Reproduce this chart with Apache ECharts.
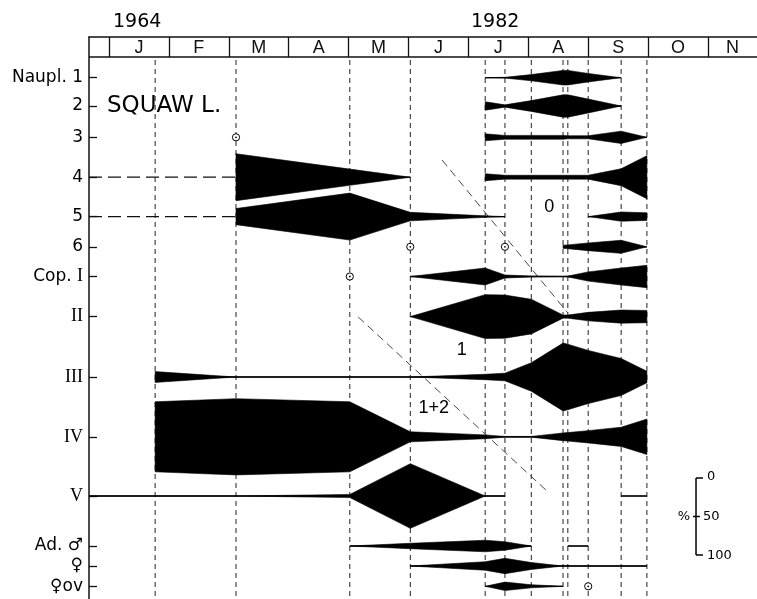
<!DOCTYPE html>
<html>
<head>
<meta charset="utf-8">
<script src="https://cdn.jsdelivr.net/npm/echarts@6/dist/echarts.min.js"></script>
<style>
html, body { margin: 0; padding: 0; background: #fff; }
#chart { width: 757px; height: 599px; }
</style>
</head>
<body>
<div id="chart"></div>
<script>
// Month letters of the calendar strip (January .. November)
const months = ['J', 'F', 'M', 'A', 'M', 'J', 'J', 'A', 'S', 'O', 'N'];

// Sampling dates, in months after 1 January
const sampleTimes = [0.77, 2.12, 4.02, 5.03, 6.28, 6.61, 7.05, 7.58, 7.66, 8.00, 8.55, 8.98];

// Developmental stages, top to bottom
const stageLabels = ['Naupl. 1', '2', '3', '4', '5', '6', 'Cop. I', 'II', 'III', 'IV', 'V', 'Ad. \u2642', '\u2640', '\u2640ov'];

// Share of each stage (% of the sample) at each sampling date.
// Each stage is a list of runs; a run is a list of [sample index, percent].
// 'edge' stands for the start of the record at the left margin.
const naupl1 = [[[4, 0], [5, 1], [6, 8], [7, 19], [8, 19], [9, 11], [10, 0]]];
const naupl2 = [[[4, 11], [5, 3], [6, 14], [7, 29], [8, 29], [9, 18], [10, 0]]];
const naupl3 = [[[4, 9], [5, 5], [6, 5], [7, 5], [8, 4], [9, 4], [10, 16], [11, 0]]];
const naupl4 = [[[1, 61], [2, 21], [3, 0]], [[4, 9], [5, 5], [6, 5], [7, 5], [8, 5], [9, 5], [10, 22], [11, 56]]];
const naupl5 = [[[1, 21], [2, 61], [3, 11], [4, 2], [5, 0]], [[9, 0], [10, 12], [11, 10]]];
const naupl6 = [[[7, 4], [8, 5], [9, 10], [10, 17], [11, 0]]];
const copI   = [[[3, 0], [4, 22], [5, 4], [6, 1], [7, 0], [8, 1], [9, 12], [10, 22], [11, 29]]];
const copII  = [[[3, 0], [4, 57], [5, 56], [6, 45], [7, 4], [8, 4], [9, 11], [10, 17], [11, 16]]];
const copIII = [[[0, 14], [1, 0], [2, 0], [3, 0], [4, 7], [5, 10], [6, 37], [7, 88], [8, 85], [9, 69], [10, 48], [11, 15]]];
const copIV  = [[[0, 91], [1, 99], [2, 91], [3, 13], [4, 5], [5, 1], [6, 1], [7, 10], [8, 11], [9, 16], [10, 25], [11, 46]]];
const copV   = [[['edge', 0], [1, 0], [2, 4], [3, 84], [4, 0], [5, 0]], [[10, 0], [11, 0]]];
const adultMale   = [[[2, 0], [3, 7], [4, 15], [5, 11], [6, 0]], [[8, 0], [9, 0]]];
const adultFemale = [[[3, 0], [4, 11], [5, 20], [6, 9], [7, 0], [8, 0], [9, 0], [10, 0], [11, 0]]];
const ovigerous   = [[[4, 0], [5, 11], [6, 4], [7, 0]]];

const stageRuns = [naupl1, naupl2, naupl3, naupl4, naupl5, naupl6, copI, copII, copIII, copIV, copV, adultMale, adultFemale, ovigerous];

// Samples that were taken but held none of the stage: [stage index, sample index]
const emptySamples = [[2, 1], [6, 2], [5, 3], [5, 5], [13, 9]];

// Stages whose record is carried back to the left margin with a long dash
const carriedBack = [[3, 1], [4, 1]];

// Cohort guide lines: [[time, row units], [time, row units]]
const cohortGuides = [[[5.56, 103], [7.66, 256]], [[4.16, 260], [7.33, 435]]];
const cohortNotes = [
  { t: 7.35, y: 150, text: '0' },
  { t: 5.89, y: 293, text: '1' },
  { t: 5.42, y: 351, text: '1+2' }
];

// ---- layout ----
const X_MIN = -0.334, X_MAX = 10.818;      // axis range in months
const Y_MIN = -20, Y_MAX = 542;            // row units (the calendar strip sits above 0)
const rowLevels = [20.7, 49, 80.3, 120.2, 159.6, 189.8, 219.5, 259.6, 320, 379.8, 439, 489, 509, 529.3];
const KITE_SCALE = 0.77;                   // row units per percent of full kite width
const LEGEND = { t: 9.8, y: 421 };

const monthEdges = months.map((m, i) => i);
const monthCenters = months.map((m, i) => (i + Math.min(i + 1, X_MAX)) / 2);

const timeOf = i => (i === 'edge' ? X_MIN : sampleTimes[i]);

const kiteSegments = [];
stageRuns.forEach((runs, stage) => runs.forEach(points => kiteSegments.push({ stage, points })));

function stageLabel(value) {
  let idx = 0, best = Infinity;
  rowLevels.forEach((l, i) => { const d = Math.abs(l - value); if (d < best) { best = d; idx = i; } });
  const s = stageLabels[idx];
  if (/^[IVX]+$/.test(s)) return '{r|' + s + '}';
  if (s.indexOf('Cop. ') === 0) return '{s|Cop. }{r|' + s.slice(5) + '}';
  return '{s|' + s + '}';
}

function monthLabel(value) {
  let idx = 0, best = Infinity;
  monthCenters.forEach((c, i) => { const d = Math.abs(c - value); if (d < best) { best = d; idx = i; } });
  return months[idx];
}

function renderBackground(params, api) {
  const children = [];
  // sampling dates
  sampleTimes.forEach(t => {
    const a = api.coord([t, 3]);
    const b = api.coord([t, Y_MAX]);
    children.push({
      type: 'line', shape: { x1: a[0], y1: a[1], x2: b[0], y2: b[1] },
      style: { stroke: '#222', lineWidth: 1, lineDash: [5, 4] }
    });
  });
  // bottom edge of the calendar strip
  const h1 = api.coord([X_MIN, 0]), h2 = api.coord([X_MAX, 0]);
  children.push({
    type: 'line', shape: { x1: h1[0], y1: h1[1], x2: h2[0], y2: h2[1] },
    style: { stroke: '#111', lineWidth: 1.5 }
  });
  // long-dash carry-back lines
  carriedBack.forEach(([stage, s]) => {
    const a = api.coord([X_MIN, rowLevels[stage]]);
    const b = api.coord([sampleTimes[s], rowLevels[stage]]);
    children.push({
      type: 'line', shape: { x1: a[0], y1: a[1], x2: b[0], y2: b[1] },
      style: { stroke: '#111', lineWidth: 1.3, lineDash: [13, 6] }
    });
  });
  // cohort guides
  cohortGuides.forEach(([p, q]) => {
    const a = api.coord(p), b = api.coord(q);
    children.push({
      type: 'line', shape: { x1: a[0], y1: a[1], x2: b[0], y2: b[1] },
      style: { stroke: '#333', lineWidth: 0.9, lineDash: [8, 5] }
    });
  });
  return { type: 'group', children };
}

function renderKite(params, api) {
  const seg = kiteSegments[params.dataIndex];
  const lvl = rowLevels[seg.stage];
  const top = seg.points.map(([i, p]) => api.coord([timeOf(i), lvl - p * KITE_SCALE / 2]));
  const bottom = seg.points.map(([i, p]) => api.coord([timeOf(i), lvl + p * KITE_SCALE / 2])).reverse();
  const mid = seg.points.map(([i]) => api.coord([timeOf(i), lvl]));
  return {
    type: 'group',
    children: [
      { type: 'polygon', shape: { points: top.concat(bottom) },
        style: { fill: '#000', stroke: '#000', lineWidth: 0.6, lineJoin: 'round' } },
      { type: 'polyline', shape: { points: mid },
        style: { fill: null, stroke: '#000', lineWidth: 1.3 } }
    ]
  };
}

function renderNotes(params, api) {
  const children = [];
  emptySamples.forEach(([stage, s]) => {
    const c = api.coord([sampleTimes[s], rowLevels[stage]]);
    children.push({ type: 'circle', shape: { cx: c[0], cy: c[1], r: 3.6 },
      style: { fill: '#fff', stroke: '#000', lineWidth: 1 } });
    children.push({ type: 'circle', shape: { cx: c[0], cy: c[1], r: 0.9 },
      style: { fill: '#000' } });
  });
  cohortNotes.forEach(n => {
    const c = api.coord([n.t, n.y]);
    children.push({ type: 'text', x: c[0], y: c[1],
      style: { text: n.text, font: '18px "Liberation Sans"', fill: '#000',
               textAlign: 'center', textVerticalAlign: 'middle' } });
  });
  // width key: 0 / 50 / 100 %
  const k0 = api.coord([LEGEND.t, LEGEND.y]);
  const k1 = api.coord([LEGEND.t, LEGEND.y + 50 * KITE_SCALE]);
  const k2 = api.coord([LEGEND.t, LEGEND.y + 100 * KITE_SCALE]);
  const st = { stroke: '#000', lineWidth: 1.5 };
  children.push({ type: 'line', shape: { x1: k0[0], y1: k0[1], x2: k2[0], y2: k2[1] }, style: st });
  children.push({ type: 'line', shape: { x1: k0[0], y1: k0[1], x2: k0[0] + 7, y2: k0[1] }, style: st });
  children.push({ type: 'line', shape: { x1: k2[0], y1: k2[1], x2: k2[0] + 7, y2: k2[1] }, style: st });
  children.push({ type: 'line', shape: { x1: k1[0] - 3, y1: k1[1], x2: k1[0] + 4, y2: k1[1] }, style: st });
  const kf = '13px "DejaVu Sans"';
  children.push({ type: 'text', x: k0[0] + 11, y: k0[1] - 1, style: { text: '0', font: kf, fill: '#000', textAlign: 'left', textVerticalAlign: 'middle' } });
  children.push({ type: 'text', x: k1[0] + 7, y: k1[1], style: { text: '50', font: kf, fill: '#000', textAlign: 'left', textVerticalAlign: 'middle' } });
  children.push({ type: 'text', x: k2[0] + 11, y: k2[1] + 1, style: { text: '100', font: kf, fill: '#000', textAlign: 'left', textVerticalAlign: 'middle' } });
  children.push({ type: 'text', x: k1[0] - 12, y: k1[1], style: { text: '%', font: kf, fill: '#000', textAlign: 'center', textVerticalAlign: 'middle' } });
  return { type: 'group', children };
}

const chart = echarts.init(document.getElementById('chart'), null, { renderer: 'canvas' });
chart.setOption({
  animation: false,
  backgroundColor: '#fff',
  grid: { left: 89, right: 0, top: 37, bottom: 0, containLabel: false, outerBoundsMode: 'none' },
  xAxis: {
    type: 'value', position: 'top', min: X_MIN, max: X_MAX,
    axisLine: { show: true, onZero: false, lineStyle: { color: '#111', width: 1.5 } },
    axisTick: { show: true, inside: true, length: 20, customValues: monthEdges,
                lineStyle: { color: '#111', width: 1.3 } },
    axisLabel: { show: true, inside: true, margin: 2, customValues: monthCenters,
                 formatter: monthLabel,
                 color: '#111', fontSize: 18, fontFamily: 'Liberation Sans' },
    splitLine: { show: false }
  },
  yAxis: {
    type: 'value', inverse: true, min: Y_MIN, max: Y_MAX,
    axisLine: { show: true, onZero: false, lineStyle: { color: '#111', width: 1.5 } },
    axisTick: { show: true, inside: true, length: 8, customValues: rowLevels,
                lineStyle: { color: '#111', width: 1.3 } },
    axisLabel: {
      show: true, margin: 6, customValues: rowLevels, formatter: stageLabel,
      rich: {
        s: { fontFamily: 'DejaVu Sans', fontSize: 17, color: '#000' },
        r: { fontFamily: 'Liberation Serif', fontSize: 18, color: '#000' }
      }
    },
    splitLine: { show: false }
  },
  graphic: [
    { type: 'text', x: 113, y: 22, style: { text: '1964', font: '19px "DejaVu Sans"', fill: '#000', verticalAlign: 'middle' } },
    { type: 'text', x: 471, y: 22, style: { text: '1982', font: '19px "DejaVu Sans"', fill: '#000', verticalAlign: 'middle' } },
    { type: 'text', x: 107, y: 106, style: { text: 'SQUAW L.', font: '23px "DejaVu Sans"', fill: '#000', verticalAlign: 'middle' } }
  ],
  series: [
    { type: 'custom', coordinateSystem: 'cartesian2d', renderItem: renderBackground, data: [[0]], z: 1, silent: true },
    { type: 'custom', coordinateSystem: 'cartesian2d', renderItem: renderKite, data: kiteSegments.map((s, i) => [i]), z: 3, silent: true },
    { type: 'custom', coordinateSystem: 'cartesian2d', renderItem: renderNotes, data: [[0]], z: 4, silent: true }
  ]
});
</script>
</body>
</html>
